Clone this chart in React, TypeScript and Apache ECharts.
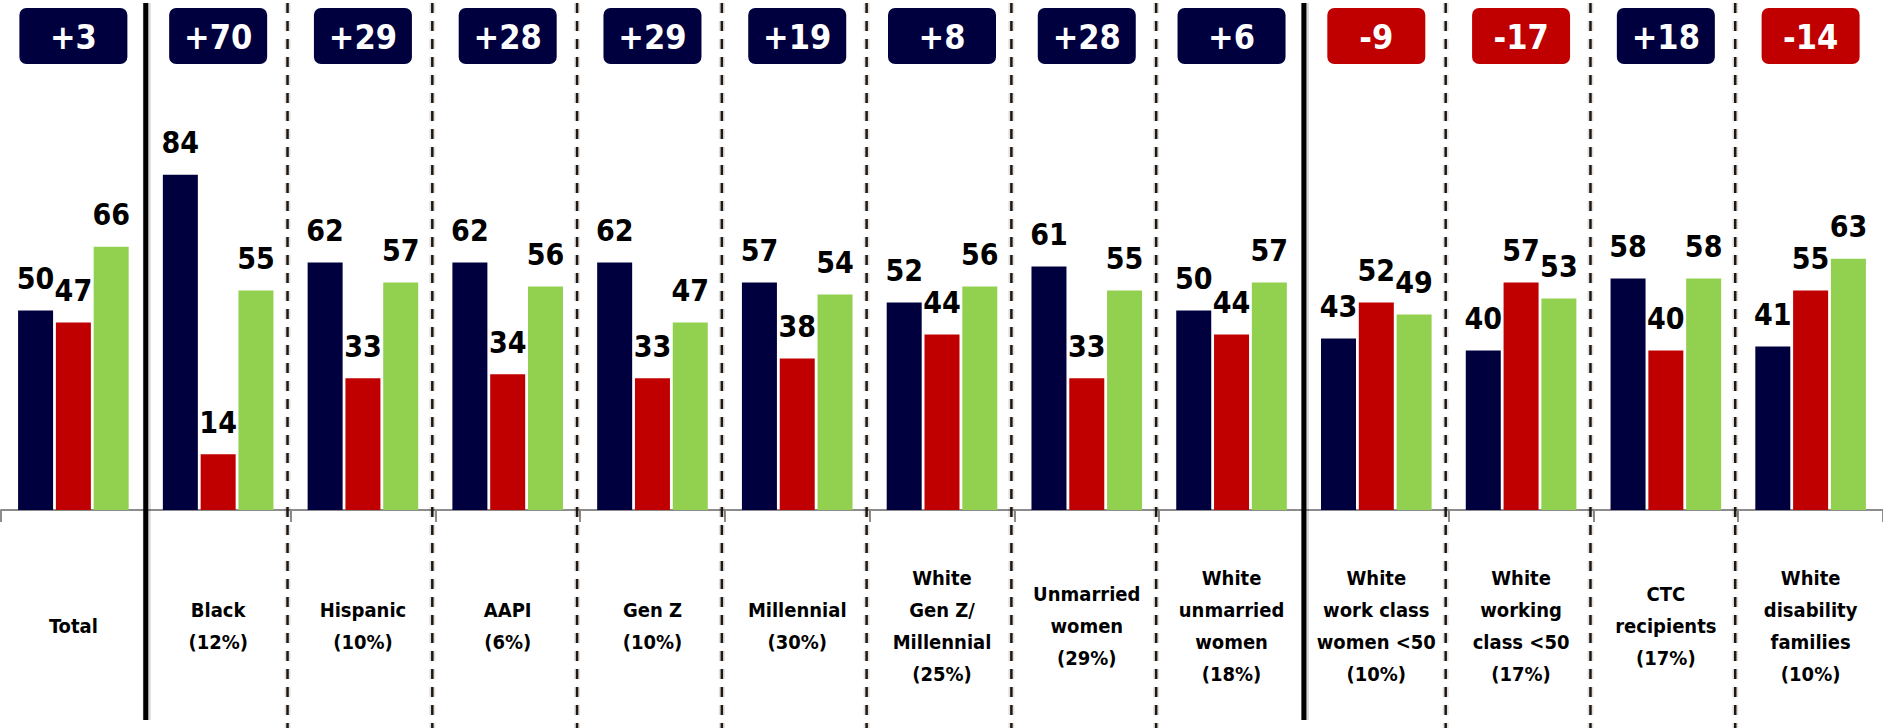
import React, { useEffect, useRef } from "react";
import * as echarts from "echarts";

const categories = [
  "Total",
  "Black\n(12%)",
  "Hispanic\n(10%)",
  "AAPI\n(6%)",
  "Gen Z\n(10%)",
  "Millennial\n(30%)",
  "White\nGen Z/\nMillennial\n(25%)",
  "Unmarried\nwomen\n(29%)",
  "White\nunmarried\nwomen\n(18%)",
  "White\nwork class\nwomen <50\n(10%)",
  "White\nworking\nclass <50\n(17%)",
  "CTC\nrecipients\n(17%)",
  "White\ndisability\nfamilies\n(10%)",
];
const blueValues = [50, 84, 62, 62, 62, 57, 52, 61, 50, 43, 40, 58, 41];
const redValues = [47, 14, 33, 34, 33, 38, 44, 33, 44, 52, 57, 40, 55];
const greenValues = [66, 55, 57, 56, 47, 54, 56, 55, 57, 49, 53, 58, 63];
const gapLabels = ["+3", "+70", "+29", "+28", "+29", "+19", "+8", "+28", "+6", "-9", "-17", "+18", "-14"];
const solidSeparators = [1, 9];

const NAVY = "#00003F";
const RED = "#C00000";
const GREEN = "#92D050";
const FONT = "'DejaVu Sans Condensed', 'Liberation Sans Narrow', 'DejaVu Sans', sans-serif";

export default function App() {
  const ref = useRef<HTMLDivElement>(null);
  useEffect(() => {
    const chart = echarts.init(ref.current!, null, { renderer: "svg" });
    const barLabel = {
      show: true,
      position: "top",
      distance: 17,
      fontSize: 30,
      fontWeight: "bold",
      fontFamily: FONT,
      color: "#000",
    };
    const mk = (name: string, data: number[], color: string) => ({
      name,
      type: "bar",
      data,
      barWidth: 35,
      barGap: "8%",
      itemStyle: { color },
      label: barLabel,
    });
    chart.setOption({
      animation: false,
      grid: { left: 1, top: 111, width: 1887, height: 399, containLabel: false },
      xAxis: {
        type: "category",
        data: categories,
        axisLine: { show: true, lineStyle: { color: "#8c8c8c", width: 2 } },
        axisTick: { show: true, length: 12, lineStyle: { color: "#8c8c8c", width: 2 } },
        axisLabel: {
          interval: 0,
          margin: 116,
          verticalAlign: "middle",
          fontSize: 20,
          lineHeight: 32,
          fontWeight: "bold",
          fontFamily: FONT,
          color: "#000",
        },
      },
      yAxis: { type: "value", min: 0, max: 100, show: false, splitLine: { show: false } },
      series: [mk("A", blueValues, NAVY), mk("B", redValues, RED), mk("C", greenValues, GREEN)],
    });

    const px = (i: number) => chart.convertToPixel({ xAxisIndex: 0 }, i) as number;
    const elements: any[] = [];
    for (let i = 1; i < categories.length; i++) {
      const x = (px(i - 1) + px(i)) / 2;
      if (solidSeparators.includes(i)) {
        elements.push({
          type: "line",
          shape: { x1: x + 1, y1: 3, x2: x + 1, y2: 720 },
          style: { stroke: "rgba(0,0,0,0.15)", lineWidth: 8 },
          z: 9,
        });
        elements.push({
          type: "line",
          shape: { x1: x, y1: 3, x2: x, y2: 720 },
          style: { stroke: "#000", lineWidth: 5 },
          z: 10,
        });
      } else {
        elements.push({
          type: "line",
          shape: { x1: x - 3, y1: 3, x2: x - 3, y2: 728 },
          style: { stroke: "rgba(0,0,0,0.12)", lineWidth: 6, lineDash: [10, 8] },
          z: 9,
        });
        elements.push({
          type: "line",
          shape: { x1: x - 3, y1: 3, x2: x - 3, y2: 728 },
          style: { stroke: "#20170f", lineWidth: 2.5, lineDash: [10, 8] },
          z: 10,
        });
      }
    }
    gapLabels.forEach((t, i) => {
      const neg = t.startsWith("-");
      const w = !neg && t.length === 2 ? 108 : 98;
      const cx = px(i);
      elements.push({
        type: "group",
        x: cx - w / 2,
        y: 8,
        children: [
          { type: "rect", shape: { x: 0, y: 0, width: w, height: 56, r: 7 }, style: { fill: neg ? RED : NAVY } },
          {
            type: "text",
            style: {
              text: t,
              x: w / 2,
              y: 29,
              align: "center",
              verticalAlign: "middle",
              fontSize: 34,
              fontWeight: "bold",
              fontFamily: FONT,
              fill: "#fff",
            },
          },
        ],
      });
    });
    chart.setOption({ graphic: { elements } });
    return () => chart.dispose();
  }, []);
  return (
    <div
      ref={ref}
      style={{ position: "fixed", left: 0, top: 0, width: 1883, height: 728, background: "#fff" }}
    />
  );
}
